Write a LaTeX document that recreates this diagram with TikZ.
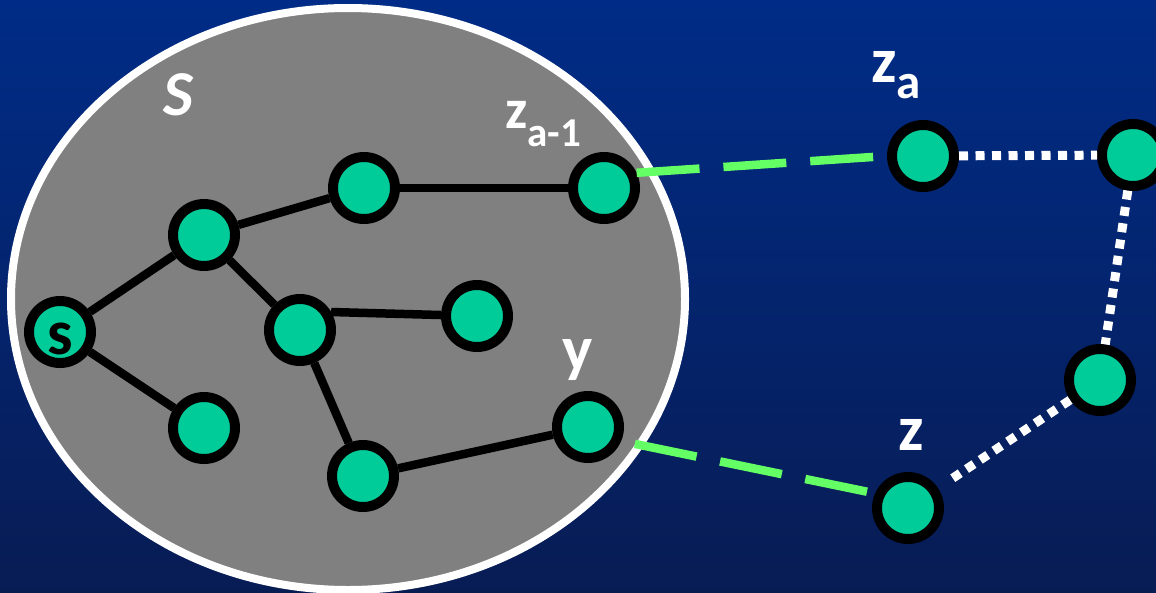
\documentclass[tikz,border=0pt]{standalone}
\usepackage{fontspec}
\setmainfont{Carlito}
\definecolor{bgtop}{RGB}{0,44,135}
\definecolor{bgbot}{RGB}{8,28,84}
\definecolor{setgrey}{RGB}{128,128,128}
\definecolor{vert}{RGB}{0,204,153}
\definecolor{lgreen}{RGB}{100,255,100}
\tikzset{
  vtx/.style={circle, draw=black, line width=10pt, fill=vert, minimum size=62pt, inner sep=0pt},
  tree/.style={draw=black, line width=8.5pt},
  cross/.style={draw=lgreen, line width=8.5pt, dash pattern=on 63pt off 24pt},
  walk/.style={draw=white, line width=9pt, dash pattern=on 9pt off 7.5pt},
  lbl/.style={text=white, inner sep=0pt, font=\bfseries},
}
\begin{document}
\begin{tikzpicture}[x=1pt,y=-1pt]
\useasboundingbox (0,0) rectangle (1156,592);
\shade[top color=bgtop, bottom color=bgbot] (0,0) rectangle (1156,592);
\filldraw[fill=setgrey, draw=white, line width=8pt] (348,299) ellipse [x radius=337, y radius=291];

% vertices
\node[vtx] (s) at (60,332) {};
\node[vtx] (a) at (204,235) {};
\node[vtx] (b) at (204,428) {};
\node[vtx] (c) at (364,188) {};
\node[vtx] (d) at (604,188) {};
\node[vtx] (e) at (300,330) {};
\node[vtx] (f) at (477,316) {};
\node[vtx] (g) at (363,476) {};
\node[vtx] (y) at (588,427) {};
\node[vtx] (za) at (923,156) {};
\node[vtx] (n1) at (1133,155) {};
\node[vtx] (n2) at (1100,380) {};
\node[vtx] (z) at (908,508) {};

% tree edges
\path[tree] (s) -- (a);
\path[tree] (s) -- (b);
\path[tree] (a) -- (c);
\path[tree] (c) -- (d);
\path[tree] (a) -- (e);
\path[tree] (e.30) -- (f);
\path[tree] (e) -- (g);
\path[tree] (g) -- (y);

% crossing edges
\path[cross] (d.25) -- (za.west);
\path[cross, shorten <=14pt] (y.-23) -- (z.156);

% walk
\path[walk] (za) -- (n1);
\path[walk] (n1) -- (n2);
\path[walk, shorten >=16pt] (n2) -- (z);

% labels
\node[lbl, anchor=base west] (lS) at (163,115) {\fontsize{64}{64}\selectfont\itshape S};
\node[anchor=base, inner sep=0pt, font=\bfseries, text=black] (ls) at (60,354) {\fontsize{64}{64}\selectfont s};
\node[lbl, anchor=base west] (lzam) at (505,128) {\fontsize{56}{56}\selectfont z\raisebox{-18pt}{\fontsize{41}{41}\selectfont a-1}};
\node[lbl, anchor=base west] (lza) at (871,82) {\fontsize{64}{64}\selectfont z\raisebox{-16pt}{\fontsize{49}{49}\selectfont a}};
\node[lbl, anchor=base west] (ly) at (562,370) {\fontsize{64}{64}\selectfont y};
\node[lbl, anchor=base west] (lz) at (898,450) {\fontsize{64}{64}\selectfont z};
\end{tikzpicture}
\end{document}
